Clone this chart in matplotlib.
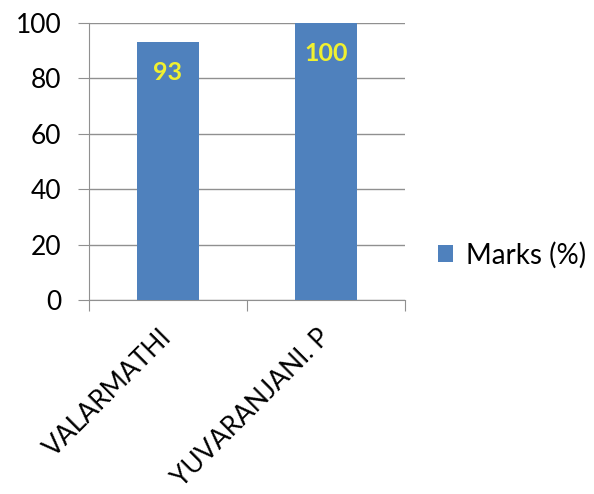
import matplotlib.pyplot as plt
import numpy as np

students = ['VALARMATHI', 'YUVARANJANI. P']
marks = [93, 100]
yticks = [0, 20, 40, 60, 80, 100]

plt.rcParams['font.family'] = ['Lato', 'DejaVu Sans']

fig = plt.figure(figsize=(5.94, 4.94), dpi=100)
ax = fig.add_axes([89 / 594, 1 - 300 / 494, 316 / 594, 277 / 494])

x = np.arange(len(students))
bars = ax.bar(x, marks, width=0.39, color='#4F81BD', label='Marks (%)', zorder=3)

for b, v in zip(bars, marks):
    ax.annotate(str(v), (b.get_x() + b.get_width() / 2, v), xytext=(0, -22),
                textcoords='offset points', ha='center', va='center',
                color='#F0F030', fontsize=18, fontweight='bold', zorder=4)

ax.set_xlim(-0.5, 1.5)
ax.set_ylim(0, 100)
ax.set_yticks(yticks)
ax.set_xticks([-0.5, 0.5, 1.5])
ax.set_xticks(x, minor=True)
ax.set_xticklabels([])
ax.set_xticklabels(students, minor=True, rotation=45, ha='right', va='center',
                   rotation_mode='anchor', fontsize=19)
ax.tick_params(axis='x', which='minor', length=0, pad=24)
ax.tick_params(axis='x', which='major', length=8, color='#909090')
ax.tick_params(axis='y', length=8, color='#909090', labelsize=19, pad=12)

ax.grid(axis='y', color='#909090', linewidth=1, zorder=0)
for s in ['top', 'right']:
    ax.spines[s].set_visible(False)
for s in ['left', 'bottom']:
    ax.spines[s].set_color('#909090')

fig.legend(loc='center left', bbox_to_anchor=(413 / 594, 1 - 255 / 494),
           frameon=False, fontsize=20, handlelength=0.55, handleheight=0.55,
           handletextpad=0.45)

fig.savefig('out.png', dpi=100)
